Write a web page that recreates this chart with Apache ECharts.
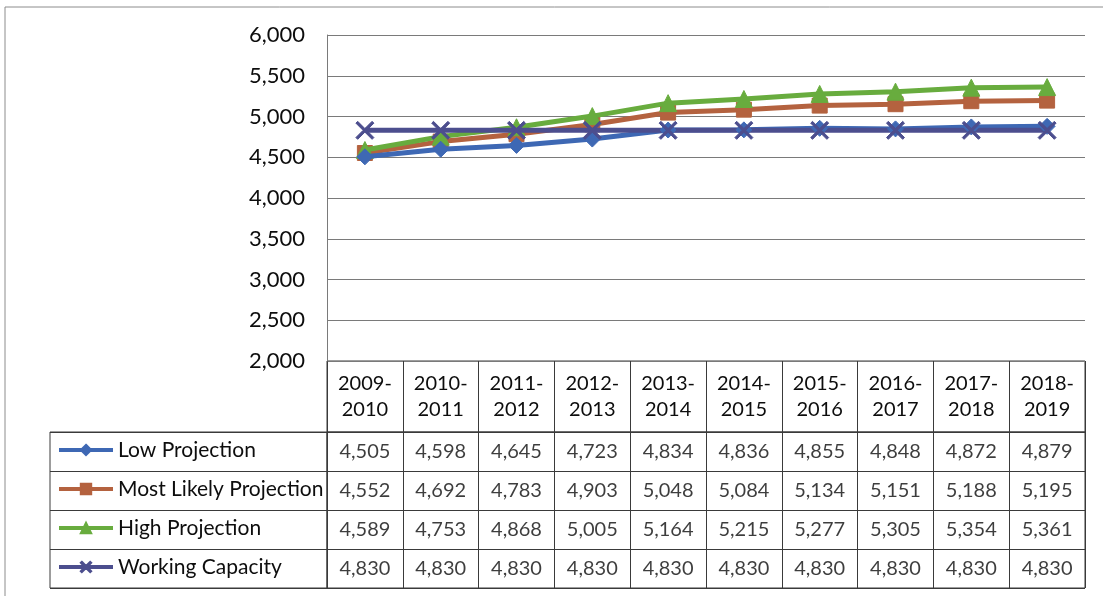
<!DOCTYPE html>
<html>
<head>
<meta charset="utf-8">
<script src="https://cdn.jsdelivr.net/npm/echarts@6/dist/echarts.min.js"></script>
<style>
  html, body { margin: 0; padding: 0; background: #fff; }
  #chart { width: 1103px; height: 596px; }
</style>
</head>
<body>
<div id="chart"></div>
<script>
const years = ['2009-\n2010', '2010-\n2011', '2011-\n2012', '2012-\n2013', '2013-\n2014',
  '2014-\n2015', '2015-\n2016', '2016-\n2017', '2017-\n2018', '2018-\n2019'];
const seriesNames = ['Low Projection', 'Most Likely Projection', 'High Projection', 'Working Capacity'];
const lowProj = [4505, 4598, 4645, 4723, 4834, 4836, 4855, 4848, 4872, 4879];
const likelyProj = [4552, 4692, 4783, 4903, 5048, 5084, 5134, 5151, 5188, 5195];
const highProj = [4589, 4753, 4868, 5005, 5164, 5215, 5277, 5305, 5354, 5361];
const workCap = [4830, 4830, 4830, 4830, 4830, 4830, 4830, 4830, 4830, 4830];
const yTicks = [2000, 6000, 500];

const allValues = [lowProj, likelyProj, highProj, workCap];
const colors = ['#3E68B4', '#B4623F', '#68AC3E', '#4C4E8E'];
const symbols = [
  'diamond',
  'rect',
  'triangle',
  'path://M2,0 L10,8 L18,0 L20,2 L12,10 L20,18 L18,20 L10,12 L2,20 L0,18 L8,10 L0,2 Z'
];
const symbolSizes = [16, 15, 17, 18];

const font = 'Lato, "Open Sans", sans-serif';
const ink = '#0d0d0d';
const fmt = v => v.toLocaleString('en-US');

// cell data for the table under the chart
const cells = [];
allValues.forEach((arr, r) => arr.forEach((v, c) => cells.push([c, r, v])));

const chart = echarts.init(document.getElementById('chart'));
const border = '#3a3a3a';

const lineSeries = allValues.map((arr, i) => ({
  name: seriesNames[i],
  type: 'line',
  xAxisIndex: 0,
  yAxisIndex: 0,
  data: arr,
  symbol: symbols[i],
  symbolSize: symbolSizes[i],
  showAllSymbol: true,
  lineStyle: { color: colors[i], width: 5 },
  itemStyle: { color: colors[i], borderColor: colors[i], borderWidth: 1 },
  z: 2 + (i === 0 ? 3 : i)
}));

chart.setOption({
  animation: false,
  textStyle: { fontFamily: font },
  graphic: [{
    type: 'rect',
    shape: { x: 5, y: 7, width: 1200, height: 700 },
    style: { fill: 'none', stroke: '#8c8c8c', lineWidth: 1 },
    silent: true
  }],
  legend: {
    orient: 'vertical',
    left: 57,
    top: 438,
    padding: 0,
    itemWidth: 54,
    itemHeight: 13,
    itemGap: 15,
    data: seriesNames,
    lineStyle: { width: 4 },
    textStyle: { fontFamily: font, fontSize: 21, color: ink, lineHeight: 24 }
  },
  grid: [
    { left: 327, top: 35, width: 758, height: 326 },
    { left: 327, top: 361, width: 758, height: 71, show: true, borderColor: border, borderWidth: 1 },
    { left: 327, top: 432, width: 758, height: 156, show: true, borderColor: border, borderWidth: 1 },
    { left: 50, top: 432, width: 277, height: 156, show: true, borderColor: border, borderWidth: 1 }
  ],
  xAxis: [
    {
      gridIndex: 0, type: 'category', data: years, boundaryGap: true,
      axisLine: { show: false }, axisTick: { show: false },
      axisLabel: { interval: 0, margin: 10, fontSize: 20, lineHeight: 26, color: ink, fontFamily: font }
    },
    {
      gridIndex: 1, type: 'category', data: years, boundaryGap: true,
      axisLine: { show: false }, axisTick: { show: false }, axisLabel: { show: false },
      splitLine: { show: true, interval: 0, lineStyle: { color: border, width: 1 } }
    },
    {
      gridIndex: 2, type: 'category', data: years, boundaryGap: true,
      axisLine: { show: false }, axisTick: { show: false }, axisLabel: { show: false },
      splitLine: { show: true, interval: 0, lineStyle: { color: border, width: 1 } }
    },
    { gridIndex: 3, type: 'value', show: false }
  ],
  yAxis: [
    {
      gridIndex: 0, type: 'value', min: yTicks[0], max: yTicks[1], interval: yTicks[2],
      axisLine: { show: true, lineStyle: { color: '#7a7a7a', width: 1 } },
      axisTick: { show: false },
      axisLabel: { margin: 22, fontSize: 22, color: ink, fontFamily: font, formatter: v => fmt(v) },
      splitLine: { lineStyle: { color: '#7a7a7a', width: 1 } }
    },
    { gridIndex: 1, type: 'value', show: false },
    {
      gridIndex: 2, type: 'category', data: seriesNames, inverse: true, boundaryGap: true,
      axisLine: { show: false }, axisTick: { show: false }, axisLabel: { show: false },
      splitLine: { show: true, interval: 0, lineStyle: { color: border, width: 1 } }
    },
    {
      gridIndex: 3, type: 'category', data: seriesNames, inverse: true, boundaryGap: true,
      axisLine: { show: false }, axisTick: { show: false }, axisLabel: { show: false },
      splitLine: { show: true, interval: 0, lineStyle: { color: border, width: 1 } }
    }
  ],
  series: lineSeries.concat([{
    type: 'scatter',
    xAxisIndex: 2,
    yAxisIndex: 2,
    data: cells,
    encode: { x: 0, y: 1 },
    symbolSize: 1,
    itemStyle: { color: 'transparent' },
    silent: true,
    label: {
      show: true,
      position: 'inside',
      fontSize: 20,
      fontFamily: font,
      color: ink,
      formatter: p => fmt(p.value[2])
    }
  }])
});
</script>
</body>
</html>
